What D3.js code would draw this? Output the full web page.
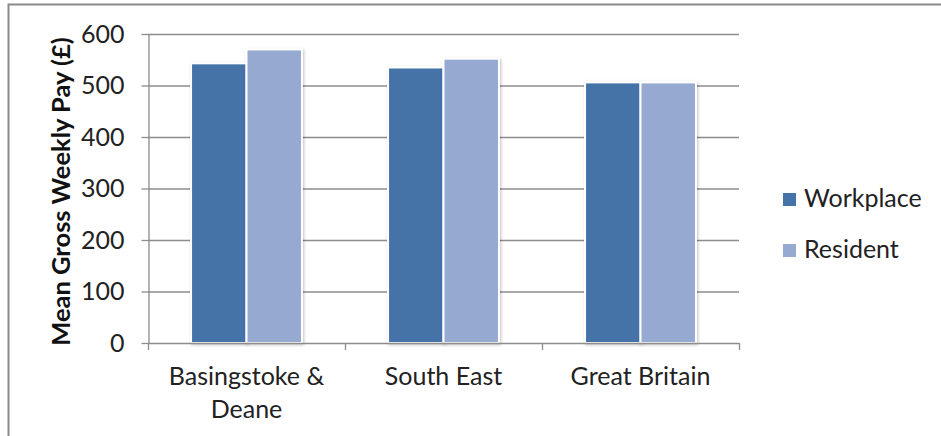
<!DOCTYPE html>
<html>
<head>
<meta charset="utf-8">
<script src="https://cdn.jsdelivr.net/npm/d3@7"></script>
<style>
  html, body { margin: 0; padding: 0; background: #fff; }
  svg { display: block; font-family: Lato, "Open Sans", sans-serif; }
</style>
</head>
<body>
<div id="vis-div"></div>
<script>
// chart data
var categories = ["Basingstoke & Deane", "South East", "Great Britain"];
var categoryLines = [["Basingstoke &", "Deane"], ["South East"], ["Great Britain"]];
var seriesNames = ["Workplace", "Resident"];
var workplace = [543, 535, 506];
var resident = [570, 552, 506];
var yTicks = [0, 100, 200, 300, 400, 500, 600];
var colors = ["#4572a7", "#95a9d1"];

var width = 941;
var height = 436;

const svg = d3.select("#vis-div").append("svg")
    .attr("width", width).attr("height", height);

// soft shadow like the excel bars
var defs = svg.append("defs");
var f = defs.append("filter").attr("id", "shadow")
    .attr("x", "-10%").attr("y", "-10%").attr("width", "130%").attr("height", "130%");
f.append("feDropShadow").attr("dx", 1).attr("dy", 1).attr("stdDeviation", 1.5)
    .attr("flood-color", "#000").attr("flood-opacity", 0.25);

// outer frame of the chart area
svg.append("path")
    .attr("d", "M8.5," + height + "V4.5H" + width)
    .attr("fill", "none").attr("stroke", "#8a8a8a").attr("stroke-width", 2);

var plotLeft = 148, plotRight = 739, plotTop = 34, plotBottom = 343;

var x = d3.scaleBand()
    .domain(categories)
    .range([plotLeft, plotRight])
    .paddingInner(0.437)
    .paddingOuter(0.437 / 2);

var x1 = d3.scaleBand()
    .domain(seriesNames)
    .range([0, x.bandwidth()]);

var y = d3.scaleLinear()
    .domain([0, 600])
    .range([plotBottom, plotTop]);

// grid lines
svg.append("g")
    .selectAll("line").data(yTicks.filter(d => d > 0)).enter().append("line")
    .attr("x1", plotLeft).attr("x2", plotRight)
    .attr("y1", d => y(d) + 0.5).attr("y2", d => y(d) + 0.5)
    .attr("stroke", "#8c8c8c").attr("stroke-width", 1.3);

// y axis
var yAxis = g => g
    .attr("transform", `translate(${plotLeft + 0.5},0)`)
    .call(d3.axisLeft(y).tickValues(yTicks).tickSize(7).tickPadding(17).tickSizeOuter(0))
    .call(g => g.selectAll("line, path").attr("stroke", "#8c8c8c").attr("stroke-width", 1.3))
    .call(g => g.selectAll("text").attr("font-size", 25).attr("fill", "#222")
        .attr("font-family", "Lato, sans-serif"));

svg.append("g").call(yAxis);

// bars
var rows = categories.map((c, i) => ({ cat: c, values: [workplace[i], resident[i]] }));

svg.append("g")
    .selectAll("g").data(rows).enter().append("g")
    .attr("transform", d => `translate(${x(d.cat)},0)`)
    .selectAll("rect").data(d => d.values.map((v, j) => ({ name: seriesNames[j], value: v, j: j })))
    .enter().append("rect")
    .attr("x", d => x1(d.name))
    .attr("y", d => y(d.value))
    .attr("width", x1.bandwidth())
    .attr("height", d => y(0) - y(d.value))
    .attr("fill", d => colors[d.j])
    .attr("stroke", "#fff").attr("stroke-width", 2)
    .attr("filter", "url(#shadow)");

// x axis with ticks between categories
var step = x.step();
var bounds = categories.map(c => x(c) - (step - x.bandwidth()) / 2).concat([plotRight]);

var xg = svg.append("g");
xg.append("line")
    .attr("x1", plotLeft).attr("x2", plotRight)
    .attr("y1", plotBottom + 0.5).attr("y2", plotBottom + 0.5)
    .attr("stroke", "#8c8c8c").attr("stroke-width", 1.3);
xg.selectAll("line.tick").data(bounds).enter().append("line")
    .attr("class", "tick")
    .attr("x1", d => d + 0.5).attr("x2", d => d + 0.5)
    .attr("y1", plotBottom).attr("y2", plotBottom + 7)
    .attr("stroke", "#8c8c8c").attr("stroke-width", 1.3);

xg.selectAll("text").data(categories).enter().append("text")
    .attr("x", d => x(d) + x.bandwidth() / 2)
    .attr("y", 385)
    .attr("text-anchor", "middle")
    .attr("font-size", 25).attr("fill", "#222")
    .each(function(d, i) {
        d3.select(this).selectAll("tspan").data(categoryLines[i]).enter().append("tspan")
            .attr("x", x(d) + x.bandwidth() / 2)
            .attr("dy", (t, k) => k === 0 ? 0 : 33)
            .text(t => t);
    });

// y axis title
svg.append("text")
    .attr("transform", `translate(70,${(plotTop + plotBottom) / 2 + 3}) rotate(-90)`)
    .attr("text-anchor", "middle")
    .attr("font-size", 25.5).attr("font-weight", "bold").attr("fill", "#111")
    .text("Mean Gross Weekly Pay (£)");

// legend
var legend = svg.append("g")
    .selectAll("g").data(seriesNames).enter().append("g")
    .attr("transform", (d, i) => `translate(783,${193 + i * 51})`);
legend.append("rect")
    .attr("width", 13).attr("height", 13)
    .attr("fill", (d, i) => colors[i]);
legend.append("text")
    .attr("x", 21).attr("y", 14)
    .attr("font-size", 25).attr("fill", "#222")
    .text(d => d);
</script>
</body>
</html>
